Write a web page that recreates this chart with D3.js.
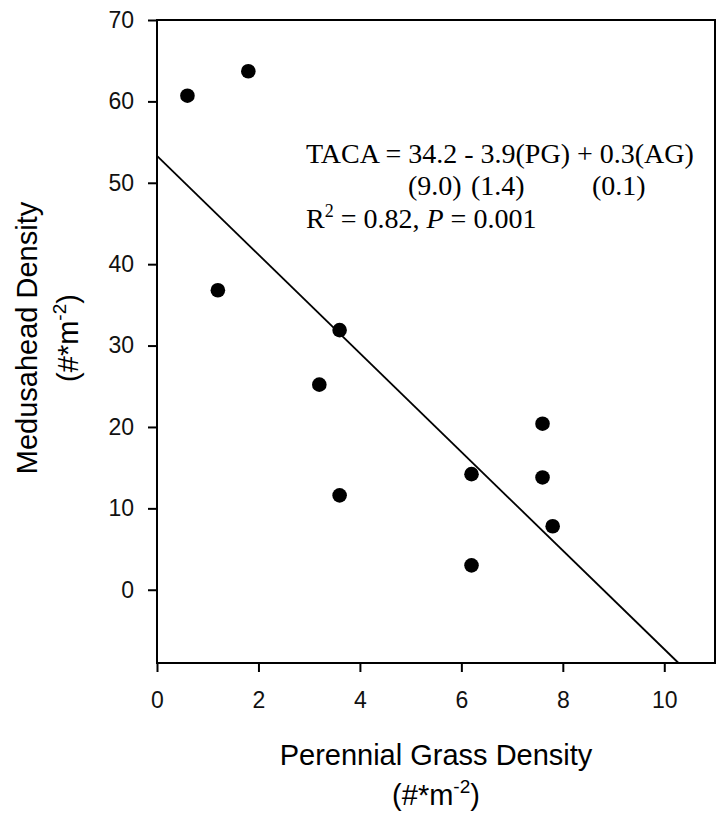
<!DOCTYPE html>
<html>
<head>
<meta charset="utf-8">
<script src="https://cdn.jsdelivr.net/npm/d3@7"></script>
<style>
    body { margin: 0; background: #fff; }
    svg { display: block; }
</style>
</head>
<body>
<div id="chart"></div>
<script>

// values
const grassDensity = [0.6, 1.8, 1.2, 3.6, 3.2, 7.6, 6.2, 7.6, 3.6, 7.8, 6.2];
const medusaheadDensity = [60.7, 63.7, 36.8, 31.9, 25.2, 20.4, 14.2, 13.8, 11.6, 7.8, 3.0];

const xTicks = [0, 2, 4, 6, 8, 10];
const yTicks = [0, 10, 20, 30, 40, 50, 60, 70];

// fitted line as drawn
const fitIntercept = 53.3;
const fitSlope = -6.06;

const equationLine1 = "TACA = 34.2 - 3.9(PG) + 0.3(AG)";
const equationErrors = ["(9.0)", "(1.4)", "(0.1)"];

function drawScatter() {

    const width = 719;
    const height = 813;
    const margin = { top: 20, right: 4, bottom: 150, left: 157 };

    const sans = "'Liberation Sans', Arial, Helvetica, sans-serif";
    const serif = "'Liberation Serif', 'Times New Roman', serif";

    const svg = d3.select("#chart")
        .append("svg")
        .attr("width", width)
        .attr("height", height);

    const x = d3.scaleLinear()
        .domain([0, 11])
        .range([margin.left, width - margin.right]);

    const y = d3.scaleLinear()
        .domain([-9, 70])
        .range([height - margin.bottom, margin.top]);

    // x axis
    const xAxis = svg.append("g")
        .attr("transform", `translate(0,${y(-9)})`)
        .call(d3.axisBottom(x).tickValues(xTicks).tickSize(9).tickPadding(20).tickSizeOuter(0));

    // y axis
    const yAxis = svg.append("g")
        .attr("transform", `translate(${x(0)},0)`)
        .call(d3.axisLeft(y).tickValues(yTicks).tickSize(9).tickPadding(14).tickSizeOuter(0));

    [xAxis, yAxis].forEach(axis => {
        axis.select(".domain").remove();
        axis.selectAll("line")
            .attr("stroke", "#000")
            .attr("stroke-width", 2);
        axis.selectAll("text")
            .attr("fill", "#111")
            .style("font-size", "23px")
            .style("font-family", sans);
    });

    // frame
    svg.append("rect")
        .attr("x", x(0))
        .attr("y", y(70))
        .attr("width", x(11) - x(0))
        .attr("height", y(-9) - y(70))
        .attr("fill", "none")
        .attr("stroke", "#000")
        .attr("stroke-width", 2);

    // regression line, from the y axis down to the bottom of the frame
    const xEnd = (-9 - fitIntercept) / fitSlope;
    const fitPoints = [0, xEnd].map(v => [v, fitIntercept + fitSlope * v]);

    svg.append("path")
        .datum(fitPoints)
        .attr("d", d3.line().x(d => x(d[0])).y(d => y(d[1])))
        .attr("fill", "none")
        .attr("stroke", "#000")
        .attr("stroke-width", 1.8);

    // points
    svg.selectAll("circle.pt")
        .data(grassDensity.map((g, i) => ({ g: g, m: medusaheadDensity[i] })))
        .enter()
        .append("circle")
        .attr("class", "pt")
        .attr("cx", d => x(d.g))
        .attr("cy", d => y(d.m))
        .attr("r", 7.3)
        .attr("fill", "#000");

    // x axis title
    const xMid = (x(0) + x(11)) / 2;

    svg.append("text")
        .attr("x", xMid)
        .attr("y", 765)
        .attr("text-anchor", "middle")
        .style("font-size", "29px")
        .style("font-family", sans)
        .text("Perennial Grass Density");

    unitLabel(svg.append("text")
        .attr("x", xMid)
        .attr("y", 805), sans);

    // y axis title
    const yMid = 338;

    svg.append("text")
        .attr("transform", `translate(37,${yMid}) rotate(-90)`)
        .attr("text-anchor", "middle")
        .style("font-size", "29px")
        .style("font-family", sans)
        .text("Medusahead Density");

    unitLabel(svg.append("text")
        .attr("transform", `translate(78,${yMid}) rotate(-90)`), sans);

    // equation block
    svg.append("text")
        .attr("x", 306)
        .attr("y", 163)
        .style("font-size", "28px")
        .style("font-family", serif)
        .text(equationLine1);

    const errX = [408, 471, 592];

    svg.append("text")
        .attr("y", 195)
        .style("font-size", "28px")
        .style("font-family", serif)
        .selectAll("tspan")
        .data(equationErrors)
        .enter()
        .append("tspan")
        .attr("x", (d, i) => errX[i])
        .text(d => d);

    const r2 = svg.append("text")
        .attr("x", 306)
        .attr("y", 228)
        .style("font-size", "28px")
        .style("font-family", serif);

    r2.append("tspan").text("R");
    r2.append("tspan")
        .attr("dy", -11)
        .style("font-size", "18px")
        .text("2");
    r2.append("tspan")
        .attr("dy", 11)
        .text(" = 0.82, ");
    r2.append("tspan")
        .style("font-style", "italic")
        .text("P");
    r2.append("tspan")
        .text(" = 0.001");
}

function unitLabel(text, font) {
    text.attr("text-anchor", "middle")
        .style("font-size", "29px")
        .style("font-family", font);

    text.append("tspan").text("(#*m");
    text.append("tspan")
        .attr("dy", -12)
        .style("font-size", "19px")
        .text("-2");
    text.append("tspan")
        .attr("dy", 12)
        .text(")");
}

drawScatter();
</script>
</body>
</html>
